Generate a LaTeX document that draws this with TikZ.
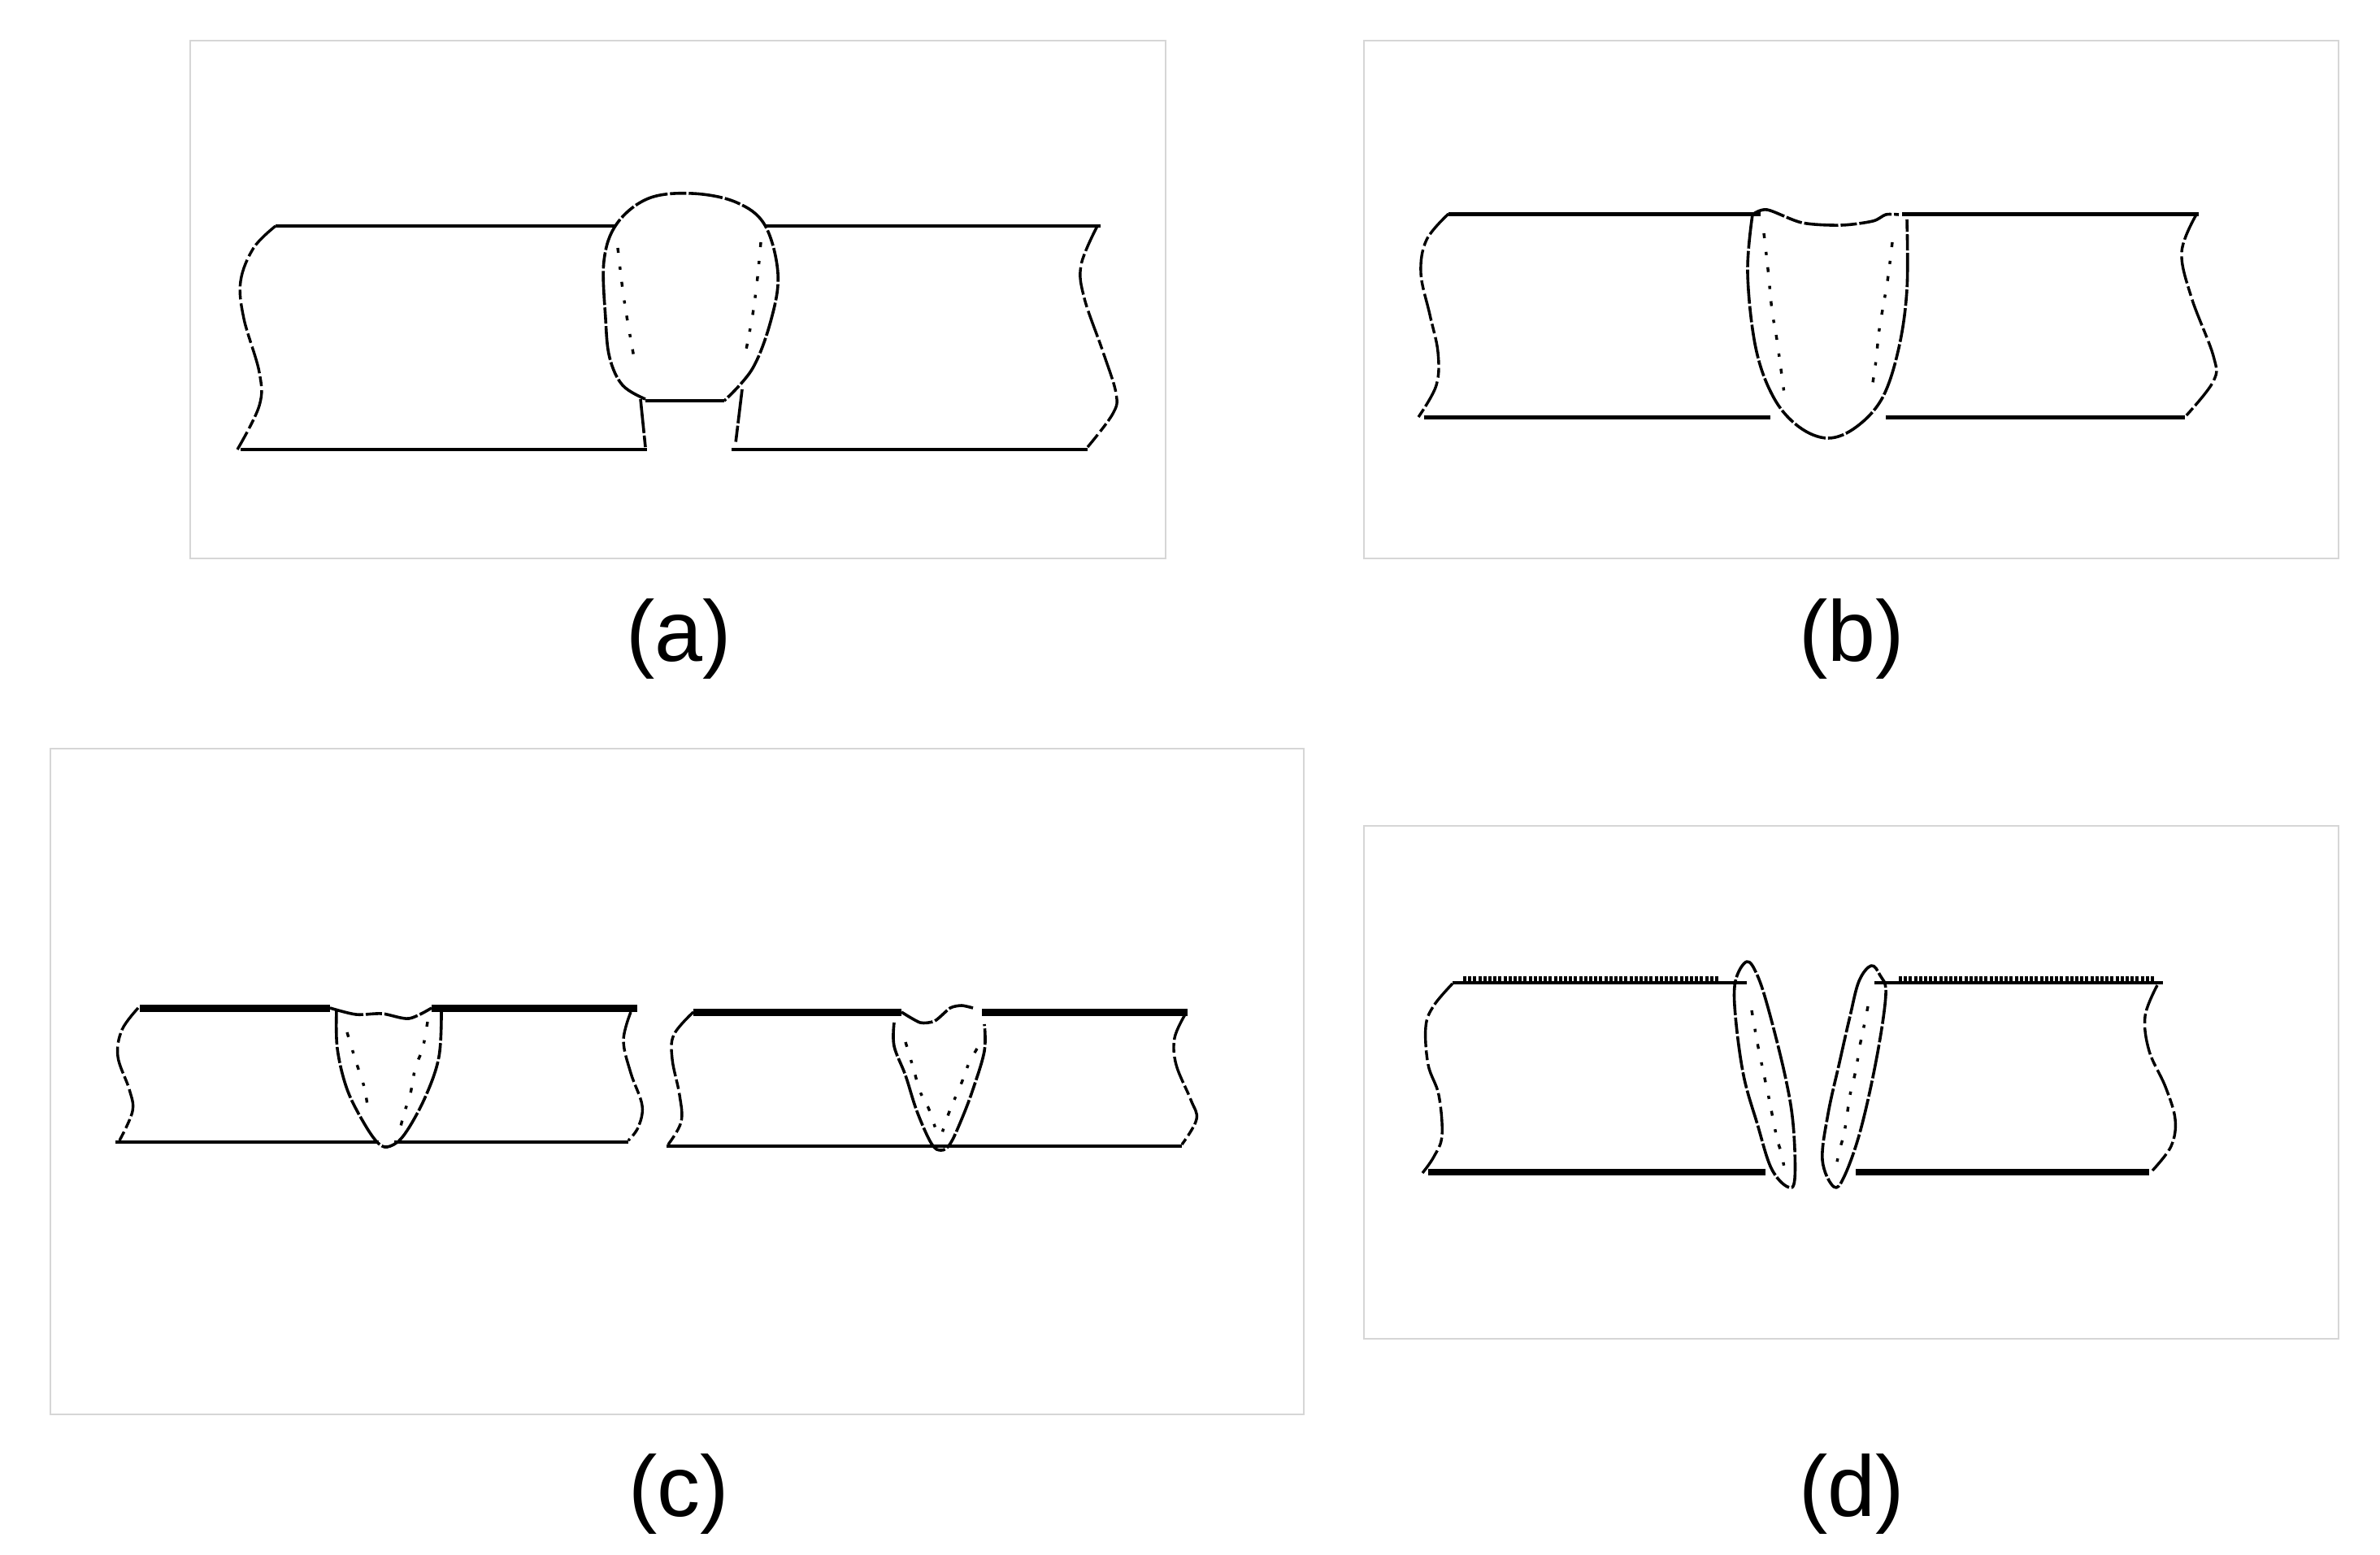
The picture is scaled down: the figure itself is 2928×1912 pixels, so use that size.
\documentclass[tikz,border=0pt]{standalone}
\usepackage{fontspec}
\setmainfont{Liberation Sans}
\tikzset{
  panelbox/.style={draw=black!16,line width=1.6pt},
  flatline/.style={line width=4.5pt},
  thickline/.style={line width=8.5pt},
  wavy/.style={line width=3.4pt,dash pattern=on 34pt off 4pt on 12pt off 5pt,line join=round},
  weld/.style={line width=3.6pt,dash pattern=on 42pt off 3pt on 20pt off 3pt,line join=round},
  dotline/.style={line width=3.4pt,dash pattern=on 6pt off 17pt on 4pt off 15pt},
  comb/.style={line width=6pt,dash pattern=on 4pt off 2.2pt},
  tag/.style={font=\fontsize{106}{106}\selectfont,inner sep=0pt,text=black}
}
\begin{document}
\begin{tikzpicture}[x=1pt,y=-1pt]
\useasboundingbox (0,0) rectangle (2928,1912);
\fill[white] (0,0) rectangle (2928,1912);
% panels
\draw[panelbox] (234,50) rectangle (1434,687);
\draw[panelbox] (1678,50) rectangle (2877,687);
\draw[panelbox] (62,921) rectangle (1604,1740);
\draw[panelbox] (1678,1016) rectangle (2877,1647);
% ---------- (a)
\draw[flatline] (339,278) -- (757,278);
\draw[flatline] (941,278) -- (1354,278);
\draw[flatline] (296,553) -- (796,553);
\draw[flatline] (900,553) -- (1338,553);
\draw[wavy] plot[smooth,tension=.6] coordinates {(339,278)(312,305)(296,346)(300,392)(319,458)(319,499)(292,553)};
\draw[wavy] plot[smooth,tension=.6] coordinates {(1350,278)(1330,326)(1334,367)(1357,433)(1373,484)(1369,509)(1338,550)};
\draw[weld] plot[smooth,tension=.6] coordinates {(794,491)(766,474)(750,440)(745,392)(743,321)(759,275)(798,244)(852,238)(906,249)(941,277)(957,336)(949,392)(926,453)(891,493)};
\draw[flatline] (794,493) -- (891,493);
\draw[weld] (788,491) -- (794,550);
\draw[weld] (913,479) -- (905,545);
\draw[dotline] plot[smooth] coordinates {(760,305)(766,356)(772,395)(780,440)};
\draw[dotline] plot[smooth] coordinates {(936,298)(932,341)(926,387)(917,435)};
\node[tag] (labA) at (835,786) {(a)};
% ---------- (b)
\draw[flatline] (1782,263.5) -- (2166,263.5);
\draw[flatline] (2340,263.5) -- (2705,263.5);
\draw[flatline] (1752,513.5) -- (2178,513.5);
\draw[flatline] (2320,513.5) -- (2688,513.5);
\draw[wavy] plot[smooth,tension=.6] coordinates {(1782,263)(1755,295)(1748,336)(1759,387)(1769,433)(1767,474)(1745,513)};
\draw[wavy] plot[smooth,tension=.6] coordinates {(2702,264)(2684,310)(2696,366)(2723,438)(2723,469)(2688,513)};
\draw[weld] plot[smooth,tension=.6] coordinates {(2156,264)(2150,336)(2160,428)(2182,489)(2213,525)(2249,539)(2284,525)(2316,489)(2336,428)(2346,356)(2346,270)};
\draw[weld] plot[smooth,tension=.5] coordinates {(2156,264)(2174,258)(2217,274)(2265,277)(2304,272)(2320,264)(2336,264)};
\draw[dotline] plot[smooth] coordinates {(2170,287)(2175,331)(2180,382)(2186,418)(2195,484)};
\draw[dotline] plot[smooth] coordinates {(2328,298)(2322,346)(2312,405)(2308,443)(2302,484)};
\node[tag] (labB) at (2278,786) {(b)};
% ---------- (c) left pipe
\draw[thickline] (172,1240.5) -- (406,1240.5);
\draw[thickline] (531,1240.5) -- (784,1240.5);
\draw[flatline] (142,1405) -- (466,1405);
\draw[flatline] (485,1405) -- (773,1405);
\draw[wavy] plot[smooth,tension=.6] coordinates {(170,1240)(150,1267)(145,1300)(159,1340)(163,1367)(147,1403)};
\draw[wavy] plot[smooth,tension=.6] coordinates {(776,1245)(767,1280)(776,1320)(790,1360)(785,1387)(773,1403)};
\draw[weld] plot[smooth,tension=.6] coordinates {(414,1243)(415,1290)(427,1340)(448,1382)(466,1407)(480,1410)(498,1395)(523,1350)(540,1300)(543,1243)};
\draw[weld] plot[smooth,tension=.5] coordinates {(406,1240)(438,1248)(470,1247)(503,1253)(531,1240)};
\draw[dotline] plot[smooth] coordinates {(427,1270)(437,1303)(448,1337)(452,1360)};
\draw[dotline] plot[smooth] coordinates {(526,1257)(520,1290)(511,1313)(505,1345)(497,1370)(492,1390)};
% ---------- (c) right pipe
\draw[thickline] (853,1245.5) -- (1109,1245.5);
\draw[thickline] (1208,1245.5) -- (1461,1245.5);
\draw[flatline] (820,1410) -- (1454,1410);
\draw[wavy] plot[smooth,tension=.6] coordinates {(853,1245)(829,1273)(827,1303)(836,1347)(838,1380)(822,1408)};
\draw[wavy] plot[smooth,tension=.6] coordinates {(1458,1248)(1445,1277)(1447,1310)(1465,1353)(1472,1377)(1454,1408)};
\draw[weld] plot[smooth,tension=.6] coordinates {(1100,1258)(1100,1287)(1114,1323)(1128,1367)(1146,1407)(1158,1415)(1169,1407)(1183,1377)(1197,1340)(1211,1293)(1211,1260)};
\draw[weld] plot[smooth,tension=.4] coordinates {(1109,1245)(1132,1258)(1150,1256)(1169,1240)(1183,1237)(1197,1240)};
\draw[dotline] plot[smooth] coordinates {(1114,1282)(1123,1312)(1132,1343)(1143,1365)(1153,1395)};
\draw[dotline] plot[smooth] coordinates {(1202,1290)(1192,1308)(1183,1332)(1177,1346)(1167,1370)(1158,1397)};
\node[tag] (labC) at (835,1838) {(c)};
% ---------- (d)
\draw[flatline] (1787,1209) -- (2149,1209);
\draw[comb] (1800,1204) -- (2115,1204);
\draw[flatline] (2306,1209) -- (2661,1209);
\draw[comb] (2336,1204) -- (2651,1204);
\draw[thickline] (1757,1442) -- (2172,1442);
\draw[thickline] (2283,1442) -- (2644,1442);
\draw[wavy] plot[smooth,tension=.6] coordinates {(1787,1210)(1764,1237)(1754,1263)(1757,1310)(1770,1347)(1774,1397)(1764,1423)(1750,1443)};
\draw[wavy] plot[smooth,tension=.6] coordinates {(2654,1212)(2639,1250)(2644,1293)(2664,1337)(2676,1377)(2671,1410)(2648,1440)};
\draw[weld] plot[smooth cycle,tension=.6] coordinates {(2149,1183)(2135,1207)(2135,1250)(2145,1323)(2162,1383)(2179,1437)(2199,1460)(2208,1450)(2206,1383)(2196,1323)(2176,1243)(2162,1200)};
\draw[dotline] plot[smooth] coordinates {(2155,1243)(2162,1283)(2169,1317)(2176,1350)(2186,1400)(2192,1420)(2196,1443)};
\draw[weld] plot[smooth cycle,tension=.6] coordinates {(2302,1188)(2287,1207)(2276,1250)(2263,1307)(2249,1370)(2242,1427)(2256,1460)(2269,1447)(2289,1390)(2309,1300)(2320,1223)(2313,1200)};
\draw[dotline] plot[smooth] coordinates {(2298,1238)(2293,1263)(2288,1287)(2283,1317)(2276,1347)(2269,1393)(2263,1415)(2258,1440)};
\node[tag] (labD) at (2278,1838) {(d)};
\end{tikzpicture}
\end{document}
